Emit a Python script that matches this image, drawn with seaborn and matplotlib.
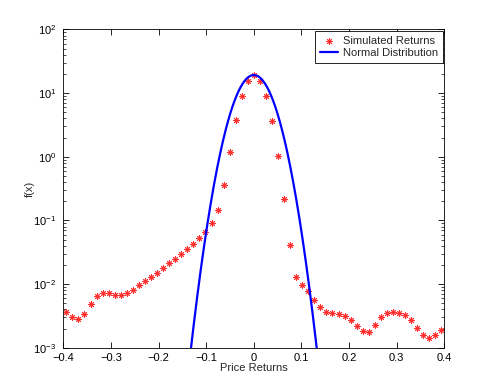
import numpy as np
import pandas as pd
import seaborn as sns
import matplotlib.pyplot as plt
from matplotlib.ticker import LogLocator, NullFormatter

# histogram bin centres (63 bins over [-0.4, 0.4])
returns_x = [-0.3937, -0.3810, -0.3683, -0.3556, -0.3429, -0.3302, -0.3175, -0.3048,
             -0.2921, -0.2794, -0.2667, -0.2540, -0.2413, -0.2286, -0.2159, -0.2032,
             -0.1905, -0.1778, -0.1651, -0.1524, -0.1397, -0.1270, -0.1143, -0.1016,
             -0.0889, -0.0762, -0.0635, -0.0508, -0.0381, -0.0254, -0.0127, 0.0,
             0.0127, 0.0254, 0.0381, 0.0508, 0.0635, 0.0762, 0.0889, 0.1016,
             0.1143, 0.1270, 0.1397, 0.1524, 0.1651, 0.1778, 0.1905, 0.2032,
             0.2159, 0.2286, 0.2413, 0.2540, 0.2667, 0.2794, 0.2921, 0.3048,
             0.3175, 0.3302, 0.3429, 0.3556, 0.3683, 0.3810, 0.3937]
# simulated density f(x)
returns_f = [0.00361, 0.00308, 0.00283, 0.00340, 0.00488, 0.00650, 0.00733, 0.00718,
             0.00682, 0.00675, 0.00718, 0.00807, 0.00957, 0.0112, 0.0128, 0.0148,
             0.0177, 0.0217, 0.0245, 0.0296, 0.0352, 0.0422, 0.0524, 0.0665,
             0.0899, 0.147, 0.363, 1.20, 3.72, 8.97, 15.4, 19.2,
             15.6, 9.08, 3.67, 1.04, 0.219, 0.0411, 0.0131, 0.00977,
             0.00771, 0.00562, 0.00429, 0.00363, 0.00352, 0.00343, 0.00312, 0.00270,
             0.00222, 0.00184, 0.00177, 0.00225, 0.00301, 0.00356, 0.00365, 0.00352,
             0.00324, 0.00274, 0.00207, 0.00161, 0.00144, 0.00157, 0.00190]

# fitted normal curve
norm_mu = 0.0
norm_sigma = 0.0297
norm_peak = 19.2

sim = pd.DataFrame({'x': returns_x, 'f': returns_f})
xs = np.linspace(-0.4, 0.4, 1601)
norm = pd.DataFrame({'x': xs, 'f': norm_peak * np.exp(-(xs - norm_mu) ** 2 / (2 * norm_sigma ** 2))})

sns.set_style('ticks', {'xtick.direction': 'in', 'ytick.direction': 'in'})
plt.rcParams['font.family'] = ['Liberation Sans', 'DejaVu Sans']
plt.rcParams['mathtext.fontset'] = 'custom'
plt.rcParams['mathtext.rm'] = 'Liberation Sans'

fig = plt.figure(figsize=(4.91, 3.92), dpi=100)
ax = fig.add_axes([0.129, 0.113, 0.776, 0.812])

sns.scatterplot(data=sim, x='x', y='f', ax=ax, marker=(8, 2, 0), color='#ff3030',
                s=18, linewidth=0.7, label='Simulated Returns', zorder=2)
sns.lineplot(data=norm, x='x', y='f', ax=ax, color='#0000ff', linewidth=1.6,
             label='Normal Distribution', zorder=3)

ax.set_yscale('log')
ax.set_xlim(-0.4, 0.4)
ax.set_ylim(1e-3, 1e2)
ax.set_xticks(np.arange(-0.4, 0.41, 0.1))
ax.set_xticklabels(['\u22120.4', '\u22120.3', '\u22120.2', '\u22120.1', '0', '0.1', '0.2', '0.3', '0.4'])
ax.yaxis.set_major_locator(LogLocator(base=10, numticks=10))
ax.yaxis.set_minor_locator(LogLocator(base=10, subs=np.arange(2, 10), numticks=20))
ax.yaxis.set_minor_formatter(NullFormatter())

ax.tick_params(which='both', direction='in', top=True, right=True, labelsize=8, colors='k')
ax.tick_params(axis='x', pad=4)
ax.tick_params(axis='y', pad=5)
ax.tick_params(which='major', length=4, width=0.6)
ax.tick_params(which='minor', length=2, width=0.5)
for sp in ax.spines.values():
    sp.set_visible(True)
    sp.set_linewidth(0.6)
    sp.set_color('k')

ax.set_xlabel('Price Returns', fontsize=8, labelpad=0)
ax.set_ylabel('f(x)', fontsize=8)
ax.yaxis.set_label_coords(-0.075, 0.5)

leg = ax.legend(loc='upper right', fontsize=8, fancybox=False, framealpha=1,
                edgecolor='k', borderaxespad=0.15, handlelength=1.6, handletextpad=0.5,
                borderpad=0.4, labelspacing=0.25)
leg.get_frame().set_linewidth(0.6)

fig.savefig('out.png', dpi=100)
